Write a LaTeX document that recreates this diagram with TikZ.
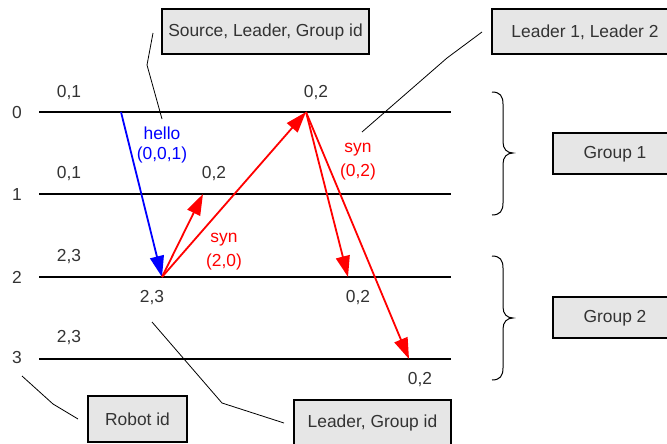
\documentclass[tikz,border=0pt]{standalone}
\usepackage{fontspec}
\setmainfont{Liberation Sans}
\usetikzlibrary{arrows.meta}
\definecolor{txt}{HTML}{333333}
\definecolor{boxfill}{HTML}{E6E6E6}
\begin{document}
\begin{tikzpicture}[x=1pt,y=-1pt,
  every node/.style={font=\fontsize{17.4}{20}\selectfont, text=txt, inner sep=0pt},
  lane/.style={line width=2pt, black},
  msgblue/.style={line width=1.8pt, blue, -{Triangle[length=21pt,width=14pt]}},
  msgred/.style={line width=1.8pt, red, -{Triangle[length=21pt,width=14pt]}},
  callout/.style={line width=0.8pt, black},
  infobox/.style={draw=black, line width=1.1pt, fill=boxfill},
  brace/.style={line width=1pt, black},
  bluetxt/.style={text=blue},
  redtxt/.style={text=red}
]
\useasboundingbox (0,0) rectangle (667,444);

% boxes
\draw[infobox] (162,9) rectangle (369,54);
\node (src) at (265.5,32) {Source, Leader, Group id};
\draw[infobox] (492,9) rectangle (690,54);
\node (lead) at (585,32) {Leader 1, Leader 2};
\draw[infobox] (553,133) rectangle (690,174);
\node (g1) at (615,154) {Group 1};
\draw[infobox] (553,297) rectangle (690,338);
\node (g2) at (615,318) {Group 2};
\draw[infobox] (88,396) rectangle (187,442);
\node (rid) at (137.5,419) {Robot id};
\draw[infobox] (294,400) rectangle (451,460);
\node (lgid) at (372.5,423) {Leader, Group id};

% lanes
\coordinate (l0a) at (39,112); \coordinate (l0b) at (451,112);
\coordinate (l1a) at (39,194); \coordinate (l1b) at (451,194);
\coordinate (l2a) at (39,277); \coordinate (l2b) at (451,277);
\coordinate (l3a) at (39,359); \coordinate (l3b) at (451,359);
\draw[lane] (l0a) -- (l0b);
\draw[lane] (l1a) -- (l1b);
\draw[lane] (l2a) -- (l2b);
\draw[lane] (l3a) -- (l3b);

% robot ids
\node (r0) at (17,113) {0};
\node (r1) at (17,195) {1};
\node (r2) at (17,277) {2};
\node (r3) at (17,358) {3};

% state labels
\node (s01a) at (69,93) {0,1};
\node (s01b) at (69,174) {0,1};
\node (s23a) at (69,257) {2,3};
\node (s23b) at (69,338) {2,3};
\node (s02a) at (316,93) {0,2};
\node (s02b) at (214,174) {0,2};
\node (s23c) at (152,298) {2,3};
\node (s02c) at (358,298) {0,2};
\node (s02d) at (420,380) {0,2};

% message labels
\node[bluetxt] (hello) at (162,133) {hello};
\node[bluetxt] (hellop) at (162,155) {(0,0,1)};
\node[redtxt] (syn1) at (224,240) {syn};
\node[redtxt] (syn1p) at (224,262) {(2,0)};
\node[redtxt] (syn2) at (358,150) {syn};
\node[redtxt] (syn2p) at (358,172) {(0,2)};

% message endpoints
\coordinate (p0) at (121,112);
\coordinate (p2) at (162,277);
\coordinate (p1) at (203,194);
\coordinate (q0) at (306,112);
\coordinate (q2) at (348,277);
\coordinate (q3) at (409,359);

\draw[msgblue] (p0) -- (p2);
\draw[msgred] (p2) -- (p1);
\draw[msgred] (p2) -- (q0);
\draw[msgred] (q0) -- (q2);
\draw[msgred] (q0) -- (q3);

% callouts
\coordinate (c1a) at (153,33); \coordinate (c1b) at (147,65); \coordinate (c1c) at (162,119);
\draw[callout] (c1a) -- (c1b) -- (c1c);
\coordinate (c2a) at (482,32); \coordinate (c2b) at (447,58); \coordinate (c2c) at (362,132);
\draw[callout] (c2a) -- (c2b) -- (c2c);
\coordinate (c3a) at (22,376); \coordinate (c3b) at (53,404); \coordinate (c3c) at (78,419);
\draw[callout] (c3a) -- (c3b) -- (c3c);
\coordinate (c4a) at (152,322); \coordinate (c4b) at (222,403); \coordinate (c4c) at (284,423);
\draw[callout] (c4a) -- (c4b) -- (c4c);

% braces
\draw[brace] (492,92) .. controls (500,92) and (503,96) .. (503,104) -- (503,142)
  .. controls (503,149) and (507,153) .. (513,153)
  .. controls (507,153) and (503,157) .. (503,164) -- (503,203)
  .. controls (503,211) and (500,215) .. (492,215);
\draw[brace] (492,256) .. controls (500,256) and (503,260) .. (503,268) -- (503,307)
  .. controls (503,314) and (507,318) .. (513,318)
  .. controls (507,318) and (503,322) .. (503,329) -- (503,368)
  .. controls (503,376) and (500,380) .. (492,380);
\end{tikzpicture}
\end{document}
